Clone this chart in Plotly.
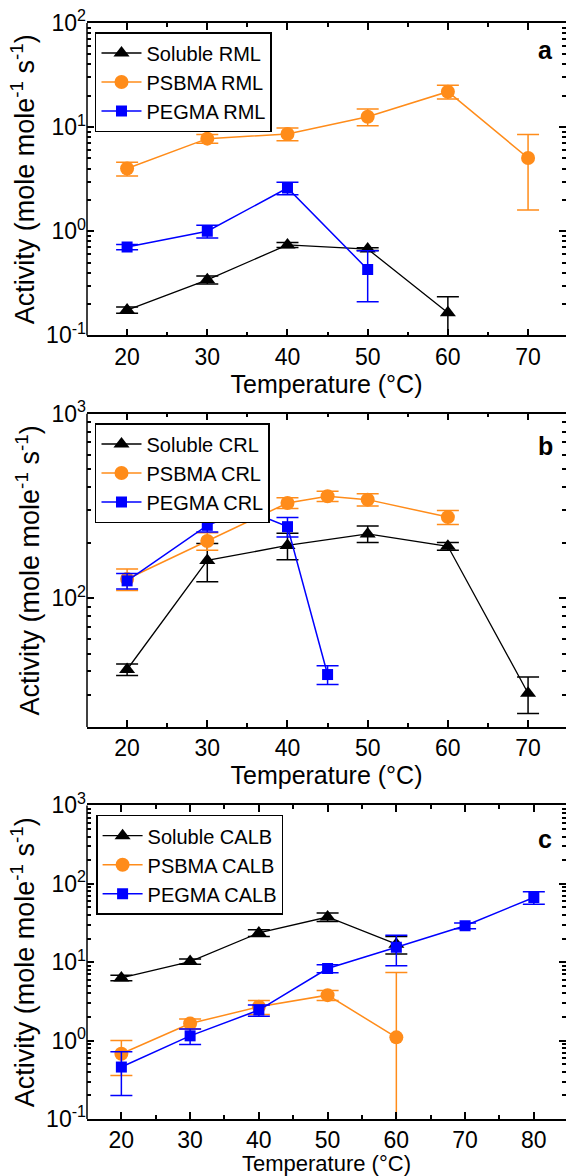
import plotly.graph_objects as go
import math

# ---------------- data ----------------
# Panel a : RML
temp_a_sol = [20, 30, 40, 50, 60]
act_a_sol = [0.175, 0.342, 0.74, 0.675, 0.165]
err_a_sol = [0.012, 0.03, 0.04, 0.02, 0.07]
temp_a_psb = [20, 30, 40, 50, 60, 70]
act_a_psb = [4.0, 7.75, 8.6, 12.6, 21.9, 5.05]
err_a_psb = [0.6, 0.75, 1.2, 2.3, 3.3, 3.45]
temp_a_peg = [20, 30, 40, 50]
act_a_peg = [0.705, 1.0, 2.6, 0.43]
err_a_peg = [0.04, 0.14, 0.36, 0.22]

# Panel b : CRL
temp_b_sol = [20, 30, 40, 50, 60, 70]
act_b_sol = [41, 160, 193, 223, 191, 30.5]
err_b_sol = [2.9, 37.5, 31.5, 23, 9.5, 6.8]
temp_b_psb = [20, 30, 40, 45, 50, 60]
act_b_psb = [127, 204, 328, 357, 342, 275]
err_b_psb = [17, 22.5, 22, 23, 26, 24]
temp_b_peg = [20, 30, 35, 40, 45]
act_b_peg = [124, 248, 299, 244, 38.5]
err_b_peg = [12, 20, 24, 29.5, 4.5]

# Panel c : CALB
temp_c_sol = [20, 30, 40, 50, 60]
act_c_sol = [6.3, 10.2, 23.6, 37.7, 17.0]
err_c_sol = [0.5, 0.8, 2.4, 4.6, 4.3]
temp_c_psb = [20, 30, 40, 50, 60]
act_c_psb = [0.68, 1.65, 2.7, 3.8, 1.1]
err_c_psb = [0.32, 0.24, 0.55, 0.55, 6.3]
temp_c_peg = [20, 30, 40, 50, 60, 70, 80]
act_c_peg = [0.46, 1.15, 2.45, 8.3, 15.5, 29.2, 67]
err_c_peg = [0.26, 0.26, 0.4, 0.95, 6.5, 2.5, 12]

names_a = ["Soluble RML", "PSBMA RML", "PEGMA RML"]
names_b = ["Soluble CRL", "PSBMA CRL", "PEGMA CRL"]
names_c = ["Soluble CALB", "PSBMA CALB", "PEGMA CALB"]
panel_letters = ["a", "b", "c"]
x_title = "Temperature (°C)"
y_title = "Activity (mole mole<sup>-1</sup> s<sup>-1</sup>)"

x_ticks_ab = [20, 30, 40, 50, 60, 70]
x_ticks_c = [20, 30, 40, 50, 60, 70, 80]

# ---------------- styling ----------------
FONT = "Arial, 'Liberation Sans', sans-serif"
BLACK = "#000000"
ORANGE = "#FF8C1A"
BLUE = "#0000FF"
colors = [BLACK, ORANGE, BLUE]
symbols = ["triangle-up", "circle", "square"]
msizes = [14, 14, 11]
lwidths = [1.3, 1.5, 1.5]
TICK_FS = 23
XT_FS = 25
XT_FS_BOTTOM = 22
YT_FS = 27

W, H = 566, 1176
ML, MT = 86.6, 23.3
plot_bottom = 1119.3
MB = H - plot_bottom
paper_h = plot_bottom - MT
paper_w = W - ML


def ydom(top_px, bot_px):
    return [(plot_bottom - bot_px) / paper_h, (plot_bottom - top_px) / paper_h]


doms = [ydom(23.3, 335.7), ydom(414.0, 727.3), ydom(805.7, 1119.3)]

fig = go.Figure()

panels = [
    (temp_a_sol, act_a_sol, err_a_sol, temp_a_psb, act_a_psb, err_a_psb,
     temp_a_peg, act_a_peg, err_a_peg, names_a),
    (temp_b_sol, act_b_sol, err_b_sol, temp_b_psb, act_b_psb, err_b_psb,
     temp_b_peg, act_b_peg, err_b_peg, names_b),
    (temp_c_sol, act_c_sol, err_c_sol, temp_c_psb, act_c_psb, err_c_psb,
     temp_c_peg, act_c_peg, err_c_peg, names_c),
]

for p, pdata in enumerate(panels):
    xs = [pdata[0], pdata[3], pdata[6]]
    ys = [pdata[1], pdata[4], pdata[7]]
    es = [pdata[2], pdata[5], pdata[8]]
    nm = pdata[9]
    suffix = "" if p == 0 else str(p + 1)
    for k in range(3):
        fig.add_trace(go.Scatter(
            x=xs[k], y=ys[k], name=nm[k], mode="lines+markers",
            line=dict(color=colors[k], width=lwidths[k]),
            marker=dict(symbol=symbols[k], size=msizes[k], color=colors[k]),
            error_y=dict(type="data", array=es[k], visible=True,
                         color=colors[k], thickness=1.5, width=11),
            xaxis="x" + suffix, yaxis="y" + suffix,
            legend="legend" + suffix,
        ))

px_per10_ab = 80.26
px_per10_c = 68.8
xr_ab = [15, 15 + paper_w / px_per10_ab * 10]
xr_c = [15, 15 + paper_w / px_per10_c * 10]

yranges = [(0.1, 100), (20, 1000), (0.1, 1000)]
ymajor = [[0.1, 1, 10, 100], [100, 1000], [0.1, 1, 10, 100, 1000]]


def sup_label(v):
    e = int(round(math.log10(v)))
    return "10<sup>%d</sup>" % e


def minor_vals(lo, hi):
    out = []
    for e in range(-2, 4):
        for m in range(2, 10):
            v = m * 10 ** e
            if lo < v < hi:
                out.append(v)
    return out


layout = dict(
    width=W, height=H,
    margin=dict(l=ML, r=0, t=MT, b=MB, pad=0),
    paper_bgcolor="white", plot_bgcolor="white",
    font=dict(family=FONT, color="black", size=TICK_FS),
    showlegend=True,
    annotations=[], shapes=[],
)

for p in range(3):
    suffix = "" if p == 0 else str(p + 1)
    xr = xr_c if p == 2 else xr_ab
    xt = x_ticks_c if p == 2 else x_ticks_ab
    xaxis = dict(
        domain=[0, 1], anchor="y" + suffix, range=xr,
        tickmode="array", tickvals=xt, ticktext=[str(v) for v in xt],
        ticks="inside", ticklen=7, tickwidth=1.5, tickcolor="black",
        minor=dict(tickmode="linear", tick0=15, dtick=5, ticks="inside",
                   ticklen=4, tickwidth=1.5, tickcolor="black"),
        showline=True, linewidth=1.5, linecolor="black", mirror="ticks",
        showgrid=False, zeroline=False,
        tickfont=dict(size=TICK_FS, family=FONT, color="black"),
    )
    if p < 2:
        xaxis["title"] = dict(text=x_title, font=dict(size=XT_FS, family=FONT, color="black"),
                              standoff=1)
    else:
        layout["annotations"].append(dict(
            text=x_title, xref="x3 domain", yref="y3 domain", x=0.5, y=0,
            xanchor="center", yanchor="top", yshift=-30, showarrow=False,
            font=dict(size=XT_FS_BOTTOM, family=FONT, color="black")))
    layout["xaxis" + suffix] = xaxis
    lo, hi = yranges[p]
    layout["yaxis" + suffix] = dict(
        domain=doms[p], anchor="x" + suffix, type="log",
        range=[math.log10(lo), math.log10(hi)],
        tickmode="array", tickvals=ymajor[p],
        ticktext=[sup_label(v) for v in ymajor[p]],
        ticks="inside", ticklen=7, tickwidth=1.5, tickcolor="black",
        minor=dict(tickmode="array", tickvals=minor_vals(lo, hi), ticks="inside",
                   ticklen=4, tickwidth=1.5, tickcolor="black"),
        showline=False, mirror="ticks",
        showgrid=False, zeroline=False,
        tickfont=dict(size=TICK_FS, family=FONT, color="black"),
        title=dict(text=y_title, font=dict(size=YT_FS, family=FONT, color="black"), standoff=3),
    )
    layout["shapes"].append(dict(
        type="line", xref="x" + suffix + " domain", yref="y" + suffix + " domain",
        x0=0, x1=0, y0=0, y1=1, line=dict(color="black", width=1.5)))
    layout["annotations"].append(dict(
        text="<b>%s</b>" % panel_letters[p], xref="x" + suffix + " domain",
        yref="y" + suffix + " domain", x=(545 - ML) / paper_w,
        y=[1 - (50.7 - 23.3) / 312.4, 1 - (446.7 - 414) / 313.3, 1 - (839.3 - 805.7) / 313.6][p],
        xanchor="center", yanchor="middle", showarrow=False,
        font=dict(size=25, family=FONT, color="black")))

leg_common = dict(xanchor="left", yanchor="top", bgcolor="white",
                  bordercolor="black", borderwidth=1.5,
                  font=dict(size=20, family=FONT, color="black"),
                  itemwidth=40, tracegroupgap=0, traceorder="normal")
layout["legend"] = dict(x=(94.6 - ML) / paper_w, y=(plot_bottom - 32.3) / paper_h, **leg_common)
layout["legend2"] = dict(x=(94.6 - ML) / paper_w, y=(plot_bottom - 423.3) / paper_h, **leg_common)
layout["legend3"] = dict(x=(95.7 - ML) / paper_w, y=(plot_bottom - 815) / paper_h, **leg_common)

fig.update_layout(**layout)
fig.write_html("out.html")
